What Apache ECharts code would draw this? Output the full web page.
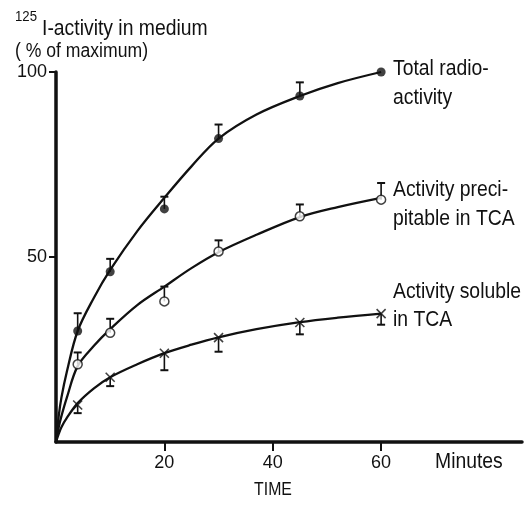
<!DOCTYPE html>
<html>
<head>
<meta charset="utf-8">
<script src="https://cdn.jsdelivr.net/npm/echarts@6/dist/echarts.min.js"></script>
<style>
  html, body { margin: 0; padding: 0; background: #fff; }
  #chart { width: 524px; height: 507px; }
</style>
</head>
<body>
<div id="chart"></div>
<script>
// sampling times, minutes
var minutes = [4, 10, 20, 30, 45, 60];
// measured 125I-activity, % of maximum
var totalActivity = [30, 46, 63, 82, 93.5, 100];
var precipitable = [21, 29.5, 38, 51.5, 61, 65.5];
var soluble = [10, 17.5, 24, 28.2, 32.3, 34.7];
// error bar lengths (circles go up, crosses go down)
var totalErr = [4.8, 3.5, 3.3, 3.8, 3.7, 0];
var precipErr = [3.2, 3.8, 4, 3, 3.2, 4.5];
var solubleErr = [2.2, 2.4, 4.6, 3.8, 3.2, 3];
// hand-drawn fitted curves
var curveX = [0, 0.5, 1, 2, 4, 7, 10, 15, 20, 25, 30, 37, 45, 52, 60];
var totalCurve = [0, 7, 12, 19, 30, 39, 46.5, 57, 66, 74.5, 82, 88.5, 93.5, 97, 100];
var precipCurve = [0, 4, 7, 12, 20.5, 26, 30.5, 37, 42, 47, 51.3, 56, 60.8, 63.5, 66];
var solubleCurve = [0, 2.2, 4, 6.5, 10.5, 14.5, 17.5, 21, 24, 26.3, 28.3, 30.5, 32.4, 33.6, 34.7];
// axis ticks
var xTicks = [20, 40, 60];
var yTicks = [50, 100];

var FONT = '"Liberation Sans", Arial, sans-serif';
var INK = '#111';
var NARROW = 0.88; // squeeze text to look like the condensed face of the original

function pairs(xs, ys) {
  return xs.map(function (x, i) { return [x, ys[i]]; });
}

function bars(values, errs, dir) {
  var out = [];
  minutes.forEach(function (m, i) {
    if (errs[i]) out.push([m, values[i], values[i] + dir * errs[i]]);
  });
  return out;
}

// vertical error bar with a cap at the far end
function renderBar(params, api) {
  var p0 = api.coord([api.value(0), api.value(1)]);
  var p1 = api.coord([api.value(0), api.value(2)]);
  return {
    type: 'group',
    children: [
      { type: 'line', shape: { x1: p0[0], y1: p0[1], x2: p1[0], y2: p1[1] },
        style: { stroke: INK, lineWidth: 1.6 } },
      { type: 'line', shape: { x1: p1[0] - 4, y1: p1[1], x2: p1[0] + 4, y2: p1[1] },
        style: { stroke: INK, lineWidth: 2 } }
    ]
  };
}

function curve(ys) {
  return {
    type: 'line', data: pairs(curveX, ys), smooth: 0.35, showSymbol: false,
    lineStyle: { color: INK, width: 2.3 }, z: 2, silent: true
  };
}

function errSeries(values, errs, dir) {
  return { type: 'custom', data: bars(values, errs, dir), renderItem: renderBar, z: 3, silent: true };
}

function txt(s, x, y, size, align) {
  return {
    type: 'text', x: x, y: y, scaleX: NARROW,
    style: { text: s, fill: INK, font: size + 'px ' + FONT, textAlign: align || 'left', textVerticalAlign: 'middle' }
  };
}

var chart = echarts.init(document.getElementById('chart'));
chart.setOption({
  animation: false,
  backgroundColor: '#fff',
  grid: { left: 56, right: 2, top: 72, bottom: 65 },
  xAxis: {
    type: 'value', min: 0, max: 86,
    axisLine: { show: true, onZero: false, lineStyle: { color: INK, width: 3.5 } },
    axisTick: { show: true, customValues: xTicks, length: 9, lineStyle: { color: INK, width: 2 } },
    axisLabel: { customValues: xTicks, color: INK, fontSize: 18, fontFamily: FONT, margin: 12 },
    splitLine: { show: false }
  },
  yAxis: {
    type: 'value', min: 0, max: 100,
    axisLine: { show: true, onZero: false, lineStyle: { color: INK, width: 3.5 } },
    axisTick: { show: true, customValues: yTicks, length: 7, lineStyle: { color: INK, width: 2 } },
    axisLabel: { customValues: yTicks, color: INK, fontSize: 18, fontFamily: FONT, margin: 9 },
    splitLine: { show: false }
  },
  series: [
    curve(totalCurve),
    curve(precipCurve),
    curve(solubleCurve),
    errSeries(totalActivity, totalErr, 1),
    errSeries(precipitable, precipErr, 1),
    errSeries(soluble, solubleErr, -1),
    {
      type: 'scatter', data: pairs(minutes, totalActivity), symbol: 'circle', symbolSize: 9,
      itemStyle: { color: INK }, z: 4
    },
    {
      type: 'scatter', data: pairs(minutes, precipitable), symbol: 'circle', symbolSize: 9,
      itemStyle: { color: '#fff', borderColor: INK, borderWidth: 1.5 }, z: 4
    },
    {
      type: 'scatter', data: pairs(minutes, soluble), symbol: 'path://M0,0L10,10M10,0L0,10', symbolSize: 9,
      itemStyle: { color: 'none', borderColor: INK, borderWidth: 1.6 }, z: 4
    }
  ],
  graphic: [
    txt('125', 15, 17, 15),
    txt('I-activity in medium', 42, 29, 22),
    txt('( % of maximum)', 15, 51, 20),
    txt('Total radio-', 393, 69, 22),
    txt('activity', 393, 98, 22),
    txt('Activity preci-', 393, 190, 22),
    txt('pitable in TCA', 393, 219, 22),
    txt('Activity soluble', 393, 292, 22),
    txt('in TCA', 393, 320, 22),
    txt('Minutes', 435, 462, 22),
    txt('TIME', 273, 490, 18, 'center')
  ]
});
</script>
</body>
</html>
